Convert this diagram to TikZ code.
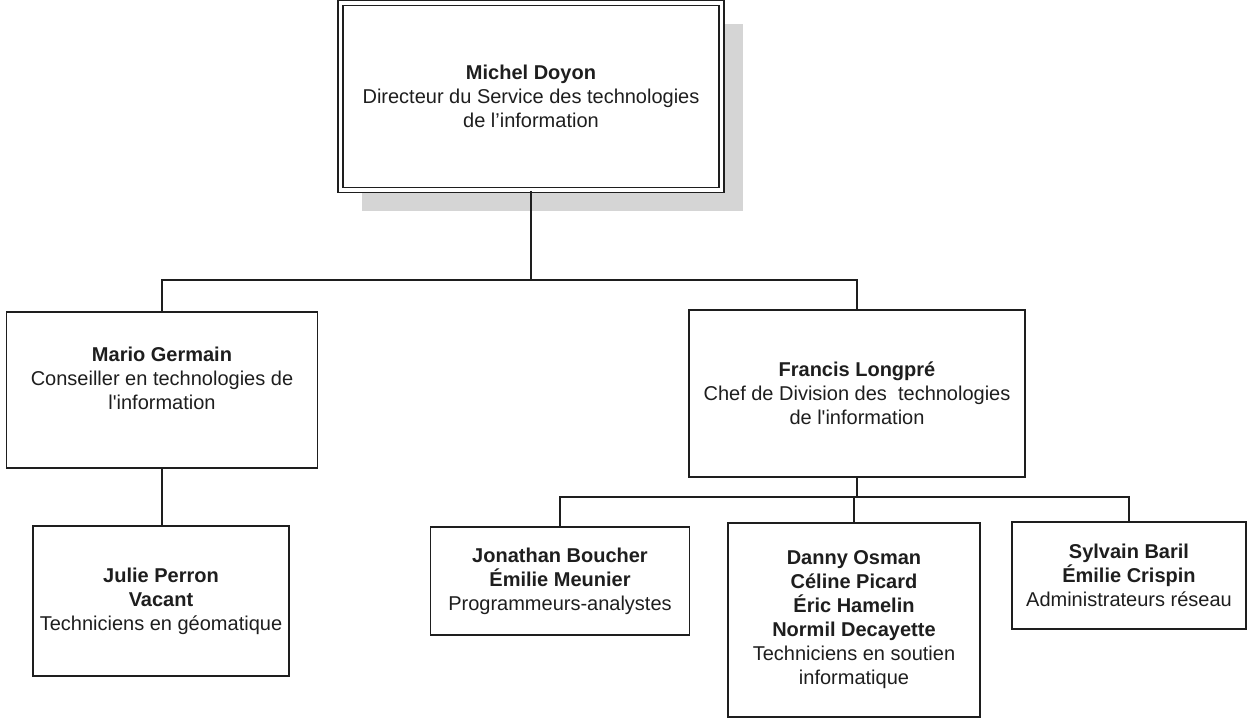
\documentclass[tikz,border=0pt]{standalone}
\usepackage{fontspec}
\setmainfont{Liberation Sans}
\usepackage{tikz}
\usetikzlibrary{shadows}
\definecolor{inkgray}{HTML}{1E1E1E}
\definecolor{shadowgray}{HTML}{D5D5D5}

\begin{document}
\begin{tikzpicture}[x=0.5pt, y=-0.5pt,
        every node/.style={font=\fontsize{10}{12}\selectfont, text=inkgray},
        unit/.style={draw=inkgray, line width=0.8pt, fill=white, align=center, inner sep=0pt},
        headbox/.style={unit, double=white, double distance=1.6pt,
            drop shadow={shadow xshift=10.5pt, shadow yshift=-10.5pt, fill=shadowgray, opacity=1}},
        link/.style={draw=inkgray, line width=0.7pt}]
            \useasboundingbox (0,0) rectangle (1250,719);
            % direction
            \node [headbox, minimum width=190.5pt, minimum height=93.5pt] (doyon) at (531,96.5)
                {\textbf{Michel Doyon}\\Directeur du Service des technologies\\de l’information};
            % second level
            \node [unit, minimum width=155.5pt, minimum height=78pt] (germain) at (162,390)
                {\textbf{Mario Germain}\\Conseiller en technologies de\\l\textquotesingle information\\\mbox{}};
            \node [unit, minimum width=168pt, minimum height=83.5pt] (longpre) at (857,393.5)
                {\textbf{Francis Longpré}\\Chef de Division des~ technologies\\de l\textquotesingle information};
            % third level
            \node [unit, minimum width=128pt, minimum height=75pt] (perron) at (161,601)
                {\textbf{Julie Perron}\\\textbf{Vacant}\\Techniciens en géomatique};
            \node [unit, minimum width=129.5pt, minimum height=54pt] (boucher) at (560,581)
                {\textbf{Jonathan Boucher}\\\textbf{Émilie Meunier}\\Programmeurs-analystes};
            \node [unit, minimum width=126pt, minimum height=97pt] (osman) at (854,620)
                {\textbf{Danny Osman}\\\textbf{Céline Picard}\\\textbf{Éric Hamelin}\\\textbf{Normil Decayette}\\Techniciens en soutien\\informatique};
            \node [unit, minimum width=117pt, minimum height=53.5pt] (baril) at (1129,575.5)
                {\textbf{Sylvain Baril}\\\textbf{Émilie Crispin}\\Administrateurs réseau};
            % links
            \coordinate (bus1) at (531,280);
            \coordinate (bus2) at (857,497);
            \draw [link] (doyon.south) -- (bus1);
            \draw [link] (germain.north) |- (bus1) -| (longpre.north);
            \draw [link] (germain.south) -- (germain.south |- perron.north);
            \draw [link] (longpre.south) -- (bus2);
            \draw [link] (boucher.north) |- (bus2) -| (baril.north);
            \draw [link] (osman.north) -- (osman.north |- bus2);
        \end{tikzpicture}
\end{document}
